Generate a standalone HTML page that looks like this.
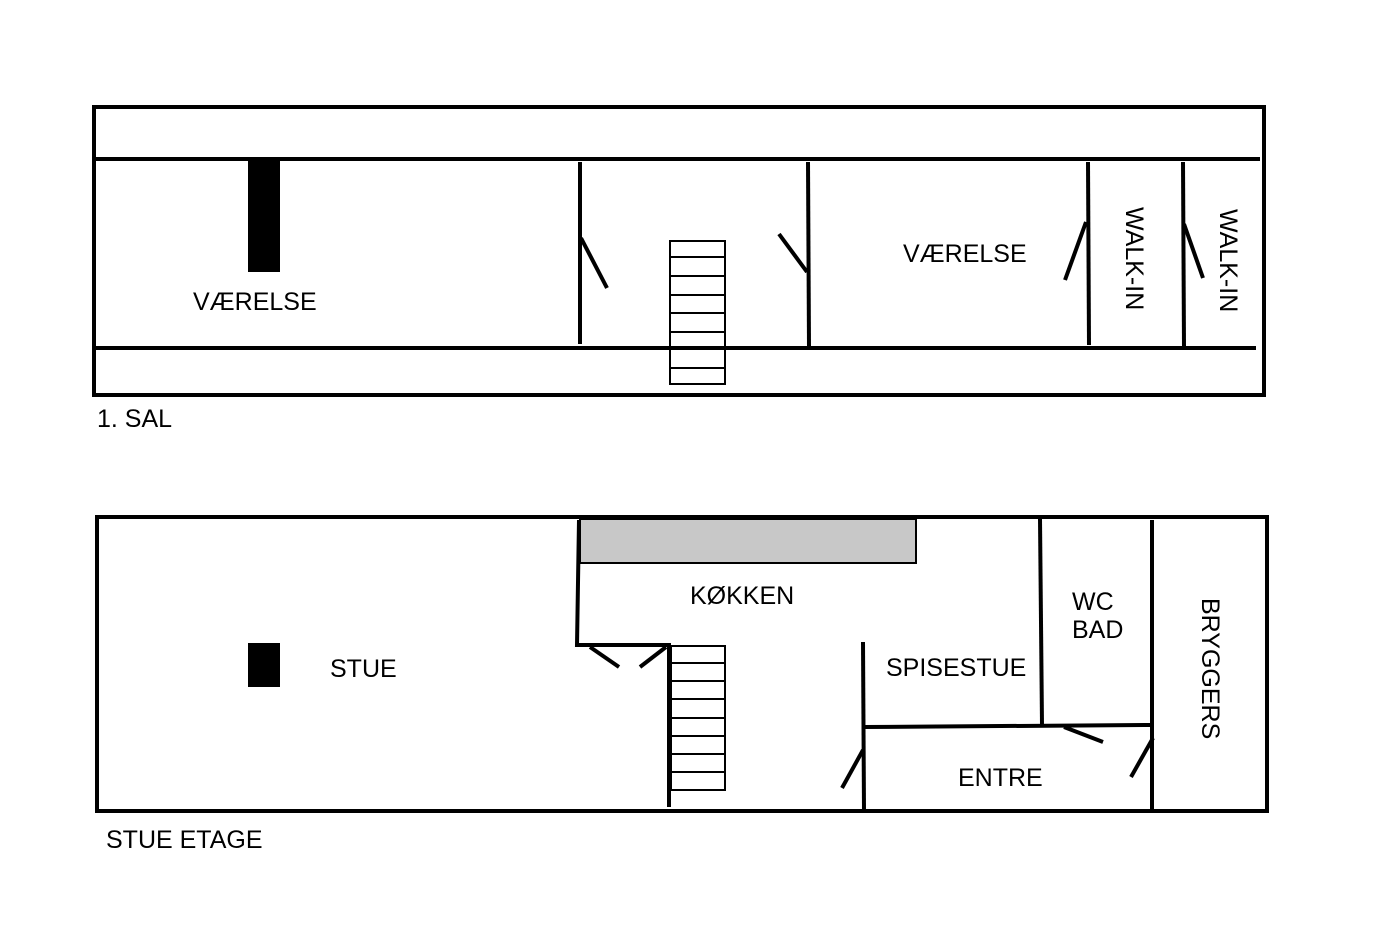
<!DOCTYPE html>
<html><head><meta charset="utf-8"><style>html,body{margin:0;padding:0;background:#fff}svg{display:block}</style></head>
<body>
<svg width="1386" height="930" viewBox="0 0 1386 930" xmlns="http://www.w3.org/2000/svg" font-family="Liberation Sans, sans-serif" font-size="25">
<rect width="1386" height="930" fill="#fff"/>
<g stroke="#000" stroke-width="4" fill="none" stroke-linecap="butt">
<rect x="94" y="107" width="1170" height="288"/>
<line x1="94" y1="159" x2="1260" y2="159"/>
<line x1="94" y1="348" x2="1256" y2="348"/>
<line x1="580" y1="162" x2="580" y2="344"/>
<line x1="808" y1="162" x2="809" y2="347"/>
<line x1="1088" y1="162" x2="1089" y2="345"/>
<line x1="1183" y1="162" x2="1184" y2="347"/>
<line x1="581" y1="238" x2="607" y2="288"/>
<line x1="779" y1="234" x2="807" y2="272"/>
<line x1="1086" y1="222" x2="1065" y2="280"/>
<line x1="1184" y1="224" x2="1203" y2="278"/>
<rect x="97" y="517" width="1170" height="294"/>
<polyline points="579,520 577,645 671,645"/>
<line x1="590" y1="647" x2="619" y2="667"/>
<line x1="640" y1="667" x2="666" y2="647"/>
<line x1="669" y1="645" x2="669" y2="807"/>
<line x1="863" y1="642" x2="864" y2="811"/>
<line x1="864" y1="727" x2="1151" y2="725"/>
<line x1="1040" y1="519" x2="1042" y2="725"/>
<line x1="1152" y1="520" x2="1152" y2="811"/>
<line x1="842" y1="788" x2="863" y2="750"/>
<line x1="1064" y1="727" x2="1103" y2="742"/>
<line x1="1131" y1="777" x2="1153" y2="738"/>
</g>
<rect x="248" y="160" width="32" height="112" fill="#000"/>
<rect x="248" y="643" width="32" height="44" fill="#000"/>
<rect x="580" y="519" width="336" height="44" fill="#c8c8c8" stroke="#000" stroke-width="2"/>
<g stroke="#000" stroke-width="2" fill="none">
<rect x="670" y="241" width="55" height="143" fill="#fff"/>
<line x1="670" y1="257" x2="725" y2="257"/>
<line x1="670" y1="276" x2="725" y2="276"/>
<line x1="670" y1="295" x2="725" y2="295"/>
<line x1="670" y1="313" x2="725" y2="313"/>
<line x1="670" y1="332" x2="725" y2="332"/>
<line x1="670" y1="368" x2="725" y2="368"/>
<rect x="671" y="646" width="54" height="144"/>
<line x1="671" y1="663" x2="725" y2="663"/>
<line x1="671" y1="681" x2="725" y2="681"/>
<line x1="671" y1="699" x2="725" y2="699"/>
<line x1="671" y1="718" x2="725" y2="718"/>
<line x1="671" y1="736" x2="725" y2="736"/>
<line x1="671" y1="754" x2="725" y2="754"/>
<line x1="671" y1="772" x2="725" y2="772"/>
</g>
<line x1="670" y1="348" x2="725" y2="348" stroke="#000" stroke-width="4"/>
<g fill="#000">
<text x="193" y="310">VÆRELSE</text>
<text x="903" y="262">VÆRELSE</text>
<text transform="translate(1126,207) rotate(90)">WALK-IN</text>
<text transform="translate(1220,209) rotate(90)">WALK-IN</text>
<text x="97" y="427">1. SAL</text>
<text x="690" y="604">KØKKEN</text>
<text x="330" y="677">STUE</text>
<text x="886" y="676">SPISESTUE</text>
<text x="1072" y="610">WC</text>
<text x="1072" y="638">BAD</text>
<text x="958" y="786">ENTRE</text>
<text transform="translate(1202,598) rotate(90)">BRYGGERS</text>
<text x="106" y="848">STUE ETAGE</text>
</g>
</svg>
</body></html>
